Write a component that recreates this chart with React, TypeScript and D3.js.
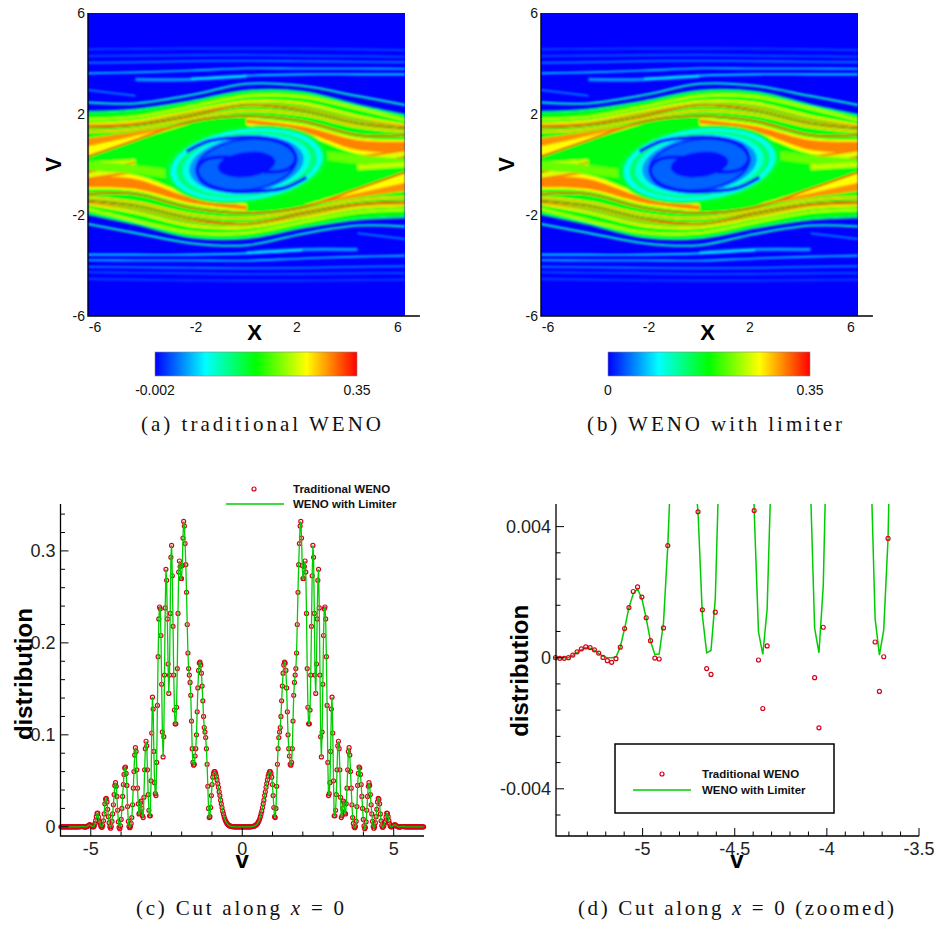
import React from "react";
import * as d3 from "d3";

// colour map of the two contour panels
const contourStops = [-0.002, 0.086, 0.174, 0.262, 0.35];
const contourColors = ["#0000ff", "#00ffff", "#00ff00", "#ffff00", "#ff0000"];

// columns (x) at which the filaments of the contour field are read
const fieldXs = [-6.28, -4.4, -2.2, 0, 2.2, 4.4, 6.28];

// v of the green envelope of the trapped region
const envelope = [2.05, 2.15, 2.5, 2.9, 2.88, 2.36, 1.95];

// wide ribbons, upper half of the field
const ribbonValue = [0.262, 0.3, 0.262, 0.305, 0.25];
const ribbonUpper = [
  [1.04, 1.3, 1.63, null, null, null, null],
  [1.04, 1.3, 1.63, null, null, null, null],
  [null, null, null, 1.85, 1.6, 1.05, 0.97],
  [null, null, null, 1.79, 1.52, 0.97, 0.9],
  [null, null, null, null, null, 0.36, 0.6],
];
const ribbonLower = [
  [0.35, 0.97, 1.63, null, null, null, null],
  [0.72, 1.13, 1.63, null, null, null, null],
  [null, null, null, 1.55, 1.2, 0.42, 0.35],
  [null, null, null, 1.63, 1.3, 0.57, 0.47],
  [null, null, null, null, null, -0.06, 0.31],
];

// thin filaments, upper half of the field
const strandValue = [0.025, 0.03, 0.05, 0.075, 0.05, 0.085, 0.05, 0.11, 0.13, 0.24, 0.27, 0.3, 0.28, 0.345, 0.35, 0.33, 0.31, 0.21, 0.24];
const strandWidth = [1.6, 1.6, 1.6, 1.6, 3.5, 1.6, 1.6, 2, 2, 2.2, 2.2, 1.6, 2.2, 1.3, 1.6, 1.2, 2.2, 9, 5];
const strandV = [
  [4.56, 4.58, 4.6, 4.6, 4.59, 4.56, 4.53],
  [4.3, 4.31, 4.33, 4.34, 4.31, 4.29, 4.27],
  [4.03, 4.05, 4.09, 4.11, 4.09, 4.07, 4.05],
  [3.61, 3.65, 3.72, 3.81, 3.8, 3.8, 3.79],
  [null, 3.37, 3.37, 3.5, null, null, null],
  [null, null, 3.4, 3.52, 3.57, 3.57, 3.57],
  [2.95, 2.72, null, null, null, null, null],
  [2.46, 2.42, 2.75, 3.2, 3.12, 2.71, 2.36],
  [2.09, 2.18, 2.51, 2.92, 2.88, 2.36, 1.96],
  [1.79, 1.89, 2.29, 2.71, 2.69, 2.22, 1.76],
  [1.62, 1.72, 2.12, 2.49, 2.42, 1.9, 1.56],
  [1.55, 1.62, 2.02, 2.35, 2.25, 1.75, 1.52],
  [1.3, 1.4, 1.82, 2.13, 1.98, 1.5, 1.3],
  [1.47, 1.56, 1.92, 2.35, 2.13, 1.63, 1.43],
  [0.31, 0.97, 1.69, 1.92, 1.72, 1.17, 1.17],
  [null, null, null, null, null, -0.08, 0.31],
  [null, null, null, null, null, 0.28, 0.57],
  [null, null, null, null, 0.5, 0.2, 0.05],
  [0.0, 0.12, null, null, null, null, null],
];

// nested rings of the central vortex (half axes in x and v)
const eyeRx = [3.25, 3.02, 2.8, 2.55, 2.28, 2.04, 1.9, 1.15];
const eyeRv = [1.52, 1.4, 1.28, 1.19, 1.1, 1.05, 0.95, 0.5];
const eyeValue = [0.16, 0.09, 0.135, 0.095, 0.05, 0.012, 0.032, 0.004];
const eyeTilt = -7;

// dark arm of the vortex spiral
const spiralX = [-2.37, -1.58, -0.79, 0.8, 1.72, 1.95, 1.6, 0.7];
const spiralV = [0.51, 0.9, 1.04, 1.04, 0.71, 0.2, -0.2, -0.3];

// the two contour panels
const panelOffsets = [0, 453];
const panelTicks = [-6, -2, 2, 6];
const panelLetters = ["-0.002", "0"];

// distribution along x = 0, in units of 0.001, 512 cells over [-6, 6]
const tradLeft = [
  0, 0, 0, 0, 0, 0, 0, 0, 0, 0, 0, 0, 0, 0, 0, 0, 0, 0, 0, 0, 0, 0, 0,
  -0.02, -0.02, 0, 0.08, 0.18, 0.27, 0.33, 0.31, 0.24, 0.14,
  0.01, -0.09, -0.14, -0.03, 0.32, 0.89, 1.53, 2.02, 2.16, 1.85,
  1.22, 0.52, -0.01, -0.04, 0.91, 3.42, 6.7, 11, 14.5, 14.8,
  10.5, 5.9, 4.45, 1.46, -0.33, -0.51, 1.39, 6.5, 14, 25,
  30, 31, 27, 19, 11, 4.49, -0.07, -1.55, 0.36, 6,
  14, 24, 35, 45, 48, 44, 33, 18, 5.4, -0.61,
  -2.14, 0.93, 8, 20, 33, 46, 57, 64, 65, 58,
  45, 22, 6, 0.48, -1.03, 0.03, 3.64, 10, 24, 42,
  60, 78, 86, 82, 62, 42, 25, 14, 15, 26,
  28, 20, 12, 10, 32, 62, 85, 93, 88, 62,
  35, 18, 12, 12, 50, 102, 141, 128, 82, 48,
  36, 34, 70, 132, 185, 226, 239, 237, 208, 155,
  103, 76, 98, 165, 238, 280, 268, 226, 177, 145,
  165, 232, 293, 306, 273, 218, 165, 127, 112, 112,
  130, 172, 232, 277, 289, 283, 270, 270, 284, 314,
  332, 327, 308, 285, 255, 220, 189, 172, 165, 157,
  143, 115, 85, 70, 67, 68, 77, 85, 100, 125,
  151, 170, 178, 179, 176, 167, 153, 137, 120, 108,
  103, 97, 85, 68, 44, 20, 10, 11, 21, 34,
  46, 54, 58, 60, 60, 58, 55, 51, 47, 43,
  38, 34, 29, 25, 21, 17, 14, 11, 8.5, 6.5,
  5, 3.7, 2.7, 2, 1.4, 1, 0.7, 0.5, 0.3, 0.2,
  0.1, 0, 0, 0, 0, 0, 0, 0, 0, 0, 0, 0, 0,
];
const tradRight = [
  0, 0, 0, 0, 0, 0, 0, 0, 0, 0, 0, 0, 0.1,
  0.2, 0.3, 0.5, 0.7, 1, 1.4, 2, 2.7, 3.7, 5,
  6.5, 8.5, 11, 14, 17, 21, 25, 29, 34, 38,
  43, 47, 51, 55, 58, 60, 60, 58, 54, 46,
  34, 21, 11, 10, 20, 44, 68, 85, 97, 103,
  108, 120, 137, 153, 167, 176, 179, 178, 170, 151,
  125, 100, 85, 77, 68, 67, 70, 85, 115, 143,
  157, 165, 172, 189, 220, 255, 285, 308, 327, 332,
  314, 284, 270, 270, 283, 289, 277, 232, 172, 130,
  112, 112, 127, 165, 218, 273, 306, 293, 232, 165,
  145, 177, 226, 268, 280, 238, 165, 98, 76, 103,
  155, 208, 237, 239, 226, 185, 132, 70, 34, 36,
  48, 82, 128, 141, 102, 50, 12, 12, 18, 35,
  62, 88, 93, 85, 62, 32, 10, 12, 20, 28,
  26, 15, 14, 25, 42, 62, 82, 86, 78, 60,
  42, 24, 10, 3.64, 0.03, -1.03, 0.48, 6, 22, 45,
  58, 65, 64, 57, 46, 33, 20, 8, 0.93, -2.14,
  -0.61, 5.4, 18, 33, 44, 48, 45, 35, 24, 14,
  6, 0.36, -1.55, -0.07, 4.49, 11, 19, 27, 31, 30,
  25, 14, 6.5, 1.39, -0.51, -0.33, 1.46, 4.45, 5.9, 10.5,
  14.8, 14.5, 11, 6.7, 3.42, 0.91, -0.04, -0.01, 0.52, 1.22,
  1.85, 2.16, 2.02, 1.53, 0.89, 0.32, -0.03, -0.14, -0.09, 0.01,
  0.14, 0.24, 0.31, 0.33, 0.27, 0.18, 0.08, 0, -0.02, -0.02,
  0, 0, 0, 0, 0, 0, 0, 0, 0, 0, 0, 0, 0, 0, 0, 0, 0, 0, 0, 0, 0, 0, 0,
];

// limited scheme where it differs: cells 23 to 100, same units
const limiterFirstCell = 23;
const limiterLow = [
  0, 0, 0, 0.07, 0.16, 0.24, 0.31, 0.29, 0.22, 0.13,
  0.04, 0, 0, 0.02, 0.33, 0.89, 1.53, 1.95, 2.1, 1.8,
  1.2, 0.5, 0.1, 0.11, 1.05, 3.42, 6.7, 11, 14.5, 14.8,
  10.5, 5.9, 4.45, 1.3, 0.15, 0.22, 1.81, 6.5, 14, 25,
  30, 31, 27, 19, 11, 4.49, 0.79, 0.1, 1.48, 6,
  14, 24, 35, 45, 48, 44, 33, 18, 5.4, 0.9,
  0.15, 2.2, 8, 20, 33, 46, 57, 64, 65, 58,
  45, 22, 6, 1.2, 0.08, 0.85, 3.64, 10,
];

const cutMajorX = [-5, 0, 5];
const cutMinorX = [-4, -3, -2, -1, 1, 2, 3, 4];
const cutMajorY = [0, 0.1, 0.2, 0.3];
const cutMinorY = [0.02, 0.04, 0.06, 0.08, 0.12, 0.14, 0.16, 0.18, 0.22, 0.24, 0.26, 0.28, 0.32, 0.34];

const zoomMajorX = [-5, -4.5, -4, -3.5];
const zoomMinorX = [-5.4, -5.3, -5.2, -5.1, -4.9, -4.8, -4.7, -4.6, -4.4, -4.3, -4.2, -4.1, -3.9, -3.8, -3.7, -3.6];
const zoomMajorY = [-0.004, 0, 0.004];
const zoomMinorY = [-0.0048, -0.0032, -0.0024, -0.0016, -0.0008, 0.0008, 0.0016, 0.0024, 0.0032];

const CUT_RED = "#d8001c";
const CUT_GREEN = "#00cc00";
const SANS = "'Liberation Sans', Arial, sans-serif";
const SERIF = "'Liberation Serif', serif";

const contourColor = d3.scaleLinear<string>().domain(contourStops).range(contourColors);

const cellCenters = d3.range(512).map((i) => -6 + (i + 0.5) * (12 / 512));
const tradValues = [...tradLeft, ...tradRight].map((d) => d / 1000);
const limiterValues = tradValues.map((d, i) => {
  const low = limiterLow[i - limiterFirstCell];
  return low === undefined ? d : low / 1000;
});

function ContourField({ id, offset }: { id: string; offset: number }) {
  const x = d3.scaleLinear().domain([-6, 6]).range([95 + offset, 398 + offset]);
  const y = d3.scaleLinear().domain([-6, 6]).range([316, 13]);
  const left = x(-6.28);
  const right = x(6.28);

  const line = (vs: (number | null)[], sign: number) =>
    d3.line<number>()
      .defined((_, i) => vs[i] !== null)
      .x((d) => x(sign * d))
      .y((_, i) => y(sign * (vs[i] as number)))
      .curve(d3.curveCatmullRom)(fieldXs) as string;

  const ribbon = (up: (number | null)[], low: (number | null)[], sign: number) =>
    d3.area<number>()
      .defined((_, i) => up[i] !== null)
      .x((d) => x(sign * d))
      .y0((_, i) => y(sign * (low[i] as number)))
      .y1((_, i) => y(sign * (up[i] as number)))
      .curve(d3.curveCatmullRom)(fieldXs) as string;

  const envelopeLow = [...envelope].reverse().map((d) => -d);
  const cx = x(0);
  const cy = y(0);
  const pxX = x(1) - x(0);

  const spiral = (sign: number) =>
    d3.line<number>()
      .x((d) => x(sign * d))
      .y((_, i) => y(sign * spiralV[i]))
      .curve(d3.curveCatmullRom)(spiralX) as string;

  return (
    <g clipPath={`url(#${id}-clip)`}>
      <clipPath id={`${id}-clip`}>
        <rect x={left} y={y(6)} width={right - left} height={y(-6) - y(6)} />
      </clipPath>
      <filter id={`${id}-blur`} filterUnits="userSpaceOnUse" x={left - 10} y={0} width={right - left + 20} height={330}>
        <feGaussianBlur stdDeviation={0.8} />
      </filter>
      <rect x={left} y={y(6)} width={right - left} height={y(-6) - y(6)} fill={contourColors[0]} />
      <g filter={`url(#${id}-blur)`} fill="none">
        <path d={ribbon(envelope, envelopeLow, 1)} fill={contourColor(0.17)} />
        {[1, -1].map((sign) => (
          <g key={sign}>
            {ribbonValue.map((value, i) => (
              <path key={i} d={ribbon(ribbonUpper[i], ribbonLower[i], sign)} fill={contourColor(value)} />
            ))}
            {strandValue.map((value, i) => (
              <path key={i} d={line(strandV[i], sign)} stroke={contourColor(value)} strokeWidth={strandWidth[i]} />
            ))}
          </g>
        ))}
        <g transform={`rotate(${eyeTilt} ${cx} ${cy})`}>
          {eyeValue.map((value, i) => (
            <ellipse key={i} cx={cx} cy={cy} rx={eyeRx[i] * pxX} ry={eyeRv[i] * pxX} fill={contourColor(value)} />
          ))}
        </g>
        {[1, -1].map((sign) => (
          <path key={sign} d={spiral(sign)} stroke={contourColor(0.004)} strokeWidth={3.5} />
        ))}
      </g>
    </g>
  );
}

function ContourPanel({ index, offset }: { index: number; offset: number }) {
  const x = d3.scaleLinear().domain([-6, 6]).range([95 + offset, 398 + offset]);
  const y = d3.scaleLinear().domain([-6, 6]).range([316, 13]);
  const left = x(-6.28);
  const barX = d3.scaleLinear().domain([0, 1]).range([155 + offset, 357 + offset]);
  const id = `panel${index}`;
  return (
    <g fontFamily={SANS}>
      <ContourField id={id} offset={offset} />
      <path d={`M${left},${y(6)}V${y(-6)}H${left + 332}`} fill="none" stroke="#000" strokeWidth={1.3} />
      {panelTicks.map((t) => (
        <text key={t} x={left - 3} y={y(t) + 5} textAnchor="end" fontSize={14} fill="#111">{t}</text>
      ))}
      {panelTicks.map((t) => (
        <text key={t} x={x(t)} y={332} textAnchor="middle" fontSize={14} fill="#111">{t}</text>
      ))}
      <text x={x(0) + 8} y={340} textAnchor="middle" fontSize={22} fontWeight="bold">X</text>
      <text transform={`translate(${left - 27},${y(0)}) rotate(-90)`} textAnchor="middle" fontSize={22} fontWeight="bold">V</text>
      <defs>
        <linearGradient id={`${id}-bar`}>
          {contourColors.map((c, i) => (
            <stop key={i} offset={i / (contourColors.length - 1)} stopColor={c} />
          ))}
        </linearGradient>
      </defs>
      <rect x={barX(0)} y={352} width={barX(1) - barX(0)} height={24} fill={`url(#${id}-bar)`} stroke="#888" strokeWidth={0.6} />
      <text x={barX(0)} y={395} textAnchor="middle" fontSize={14} fill="#111">{panelLetters[index]}</text>
      <text x={barX(1)} y={395} textAnchor="middle" fontSize={14} fill="#111">0.35</text>
    </g>
  );
}

type AxisProps = {
  x: d3.ScaleLinear<number, number>;
  y: d3.ScaleLinear<number, number>;
  majorX: number[];
  minorX: number[];
  majorY: number[];
  minorY: number[];
};

function Axes({ x, y, majorX, minorX, majorY, minorY }: AxisProps) {
  const [x0, x1] = x.range();
  const [y0, y1] = y.range();
  return (
    <g fontFamily={SANS} stroke="none">
      <path d={`M${x0},${y1}V${y0}H${x1}`} fill="none" stroke="#000" strokeWidth={1.3} />
      {majorX.map((t) => (
        <g key={t}>
          <line x1={x(t)} x2={x(t)} y1={y0} y2={y0 - 8} stroke="#000" />
          <text x={x(t)} y={y0 + 19} textAnchor="middle" fontSize={18} fill="#222">{t}</text>
        </g>
      ))}
      {minorX.map((t) => (
        <line key={t} x1={x(t)} x2={x(t)} y1={y0} y2={y0 - 4.5} stroke="#000" />
      ))}
      {majorY.map((t) => (
        <g key={t}>
          <line x1={x0} x2={x0 + 8} y1={y(t)} y2={y(t)} stroke="#000" />
          <text x={x0 - 5} y={y(t) + 6} textAnchor="end" fontSize={18} fill="#222">{t}</text>
        </g>
      ))}
      {minorY.map((t) => (
        <line key={t} x1={x0} x2={x0 + 4.5} y1={y(t)} y2={y(t)} stroke="#000" />
      ))}
    </g>
  );
}

function CutChart() {
  const x = d3.scaleLinear().domain([-6, 6]).range([60.5, 424]);
  const y = d3.scaleLinear().domain([-0.01, 0.351]).range([836, 504]);
  const line = d3.line<number>().x((_, i) => x(cellCenters[i])).y((d) => y(d));
  return (
    <g>
      {tradValues.map((d, i) => (
        <circle key={i} cx={x(cellCenters[i])} cy={y(d)} r={2} fill="none" stroke={CUT_RED} strokeWidth={1.2} />
      ))}
      <path d={line(limiterValues) as string} fill="none" stroke={CUT_GREEN} strokeWidth={1.3} />
      <Axes x={x} y={y} majorX={cutMajorX} minorX={cutMinorX} majorY={cutMajorY} minorY={cutMinorY} />
      <text transform={`translate(32,${y(0.166)}) rotate(-90)`} textAnchor="middle" fontFamily={SANS} fontSize={24} fontWeight="bold">distribution</text>
      <text x={x(0)} y={868} textAnchor="middle" fontFamily={SANS} fontSize={24} fontWeight="bold">v</text>
      <circle cx={254} cy={489} r={2} fill="none" stroke={CUT_RED} strokeWidth={1.2} />
      <line x1={226} x2={284} y1={504} y2={504} stroke={CUT_GREEN} strokeWidth={1.4} />
      <g fontFamily={SANS} fontWeight="bold" fontSize={11.5} fill="#111">
        <text x={293} y={493}>Traditional WENO</text>
        <text x={293} y={508}>WENO with Limiter</text>
      </g>
    </g>
  );
}

function ZoomChart() {
  const x = d3.scaleLinear().domain([-5.47, -3.5]).range([556, 919]);
  const y = d3.scaleLinear().domain([-0.00544, 0.00469]).range([836, 504]);
  const line = d3.line<number>().x((_, i) => x(cellCenters[i])).y((d) => y(d));
  const [x0, x1] = x.range();
  return (
    <g>
      <clipPath id="zoom-clip">
        <rect x={x0 - 3} y={504} width={x1 - x0 + 3} height={332} />
      </clipPath>
      <g clipPath="url(#zoom-clip)">
        <path d={line(limiterValues) as string} fill="none" stroke={CUT_GREEN} strokeWidth={1.5} />
        {tradValues.map((d, i) => (
          <circle key={i} cx={x(cellCenters[i])} cy={y(d)} r={2} fill="none" stroke={CUT_RED} strokeWidth={1.2} />
        ))}
      </g>
      <Axes x={x} y={y} majorX={zoomMajorX} minorX={zoomMinorX} majorY={zoomMajorY} minorY={zoomMinorY} />
      <text transform={`translate(528,${y(-0.0004)}) rotate(-90)`} textAnchor="middle" fontFamily={SANS} fontSize={24} fontWeight="bold">distribution</text>
      <text x={737} y={868} textAnchor="middle" fontFamily={SANS} fontSize={24} fontWeight="bold">v</text>
      <rect x={615} y={744} width={219} height={69} fill="#fff" stroke="#000" strokeWidth={1.5} />
      <circle cx={662} cy={774} r={2} fill="none" stroke={CUT_RED} strokeWidth={1.2} />
      <line x1={633} x2={691} y1={790} y2={790} stroke={CUT_GREEN} strokeWidth={1.4} />
      <g fontFamily={SANS} fontWeight="bold" fontSize={11.5} fill="#111">
        <text x={702} y={778}>Traditional WENO</text>
        <text x={702} y={794}>WENO with Limiter</text>
      </g>
    </g>
  );
}

function Caption({ x, y, width, children }: { x: number; y: number; width: number; children: React.ReactNode }) {
  return (
    <text x={x} y={y} fontFamily={SERIF} fontSize={21} textLength={width} lengthAdjust="spacing" fill="#111">{children}</text>
  );
}

export default function App() {
  return (
    <svg width={948} height={930} style={{ position: "absolute", left: 0, top: 0, background: "#fff" }}>
      {panelOffsets.map((offset, i) => (
        <ContourPanel key={i} index={i} offset={offset} />
      ))}
      <Caption x={141} y={431} width={240}>(a) traditional WENO</Caption>
      <Caption x={587} y={431} width={255}>(b) WENO with limiter</Caption>
      <CutChart />
      <ZoomChart />
      <Caption x={136} y={915} width={208}>
        (c) Cut along <tspan fontStyle="italic">x</tspan> = 0
      </Caption>
      <Caption x={578} y={915} width={316}>
        (d) Cut along <tspan fontStyle="italic">x</tspan> = 0 (zoomed)
      </Caption>
    </svg>
  );
}
